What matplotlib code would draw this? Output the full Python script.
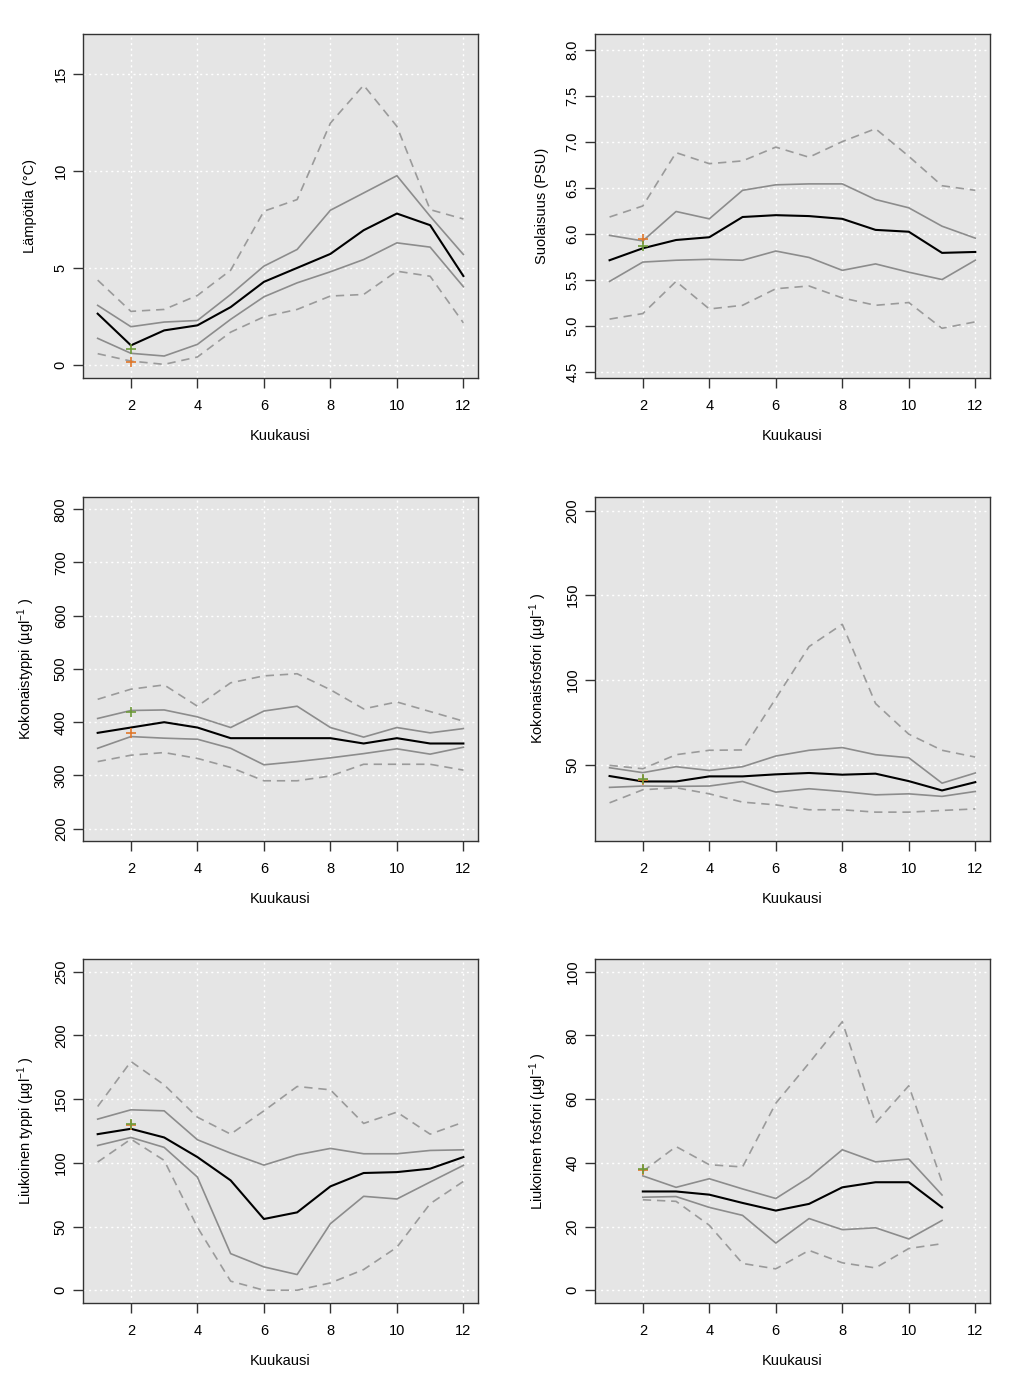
import matplotlib
matplotlib.use("Agg")
import matplotlib.pyplot as plt
import numpy as np

plt.rcParams['font.family'] = ['Liberation Sans', 'DejaVu Sans']
plt.rcParams['mathtext.fontset'] = 'custom'
plt.rcParams['mathtext.rm'] = 'Liberation Sans'
plt.rcParams['mathtext.it'] = 'Liberation Sans'

months = list(range(1, 13))
months_dp = list(range(2, 12))

# Lämpötila
temp_med = [2.66, 1.03, 1.80, 2.06, 3.00, 4.30, 5.02, 5.74, 6.96, 7.82, 7.22, 4.60]
temp_q75 = [3.09, 1.99, 2.23, 2.31, 3.65, 5.11, 5.97, 7.99, 8.88, 9.77, 7.68, 5.71]
temp_q25 = [1.39, 0.62, 0.48, 1.08, 2.37, 3.53, 4.25, 4.82, 5.45, 6.31, 6.09, 4.05]
temp_p90 = [4.39, 2.78, 2.88, 3.60, 4.90, 7.94, 8.54, 12.48, 14.43, 12.31, 8.02, 7.54]
temp_p10 = [0.60, 0.22, 0.05, 0.43, 1.71, 2.50, 2.88, 3.57, 3.65, 4.85, 4.59, 2.19]
temp_obs = [0.19, 0.82]   # orange, green

# Suolaisuus
sal_med = [5.71, 5.84, 5.93, 5.96, 6.18, 6.20, 6.19, 6.16, 6.04, 6.02, 5.79, 5.80]
sal_q75 = [5.98, 5.92, 6.24, 6.16, 6.47, 6.53, 6.54, 6.54, 6.37, 6.28, 6.08, 5.95]
sal_q25 = [5.48, 5.69, 5.71, 5.72, 5.71, 5.81, 5.74, 5.60, 5.67, 5.58, 5.50, 5.71]
sal_p90 = [6.18, 6.30, 6.88, 6.76, 6.79, 6.94, 6.83, 7.00, 7.14, 6.84, 6.52, 6.47]
sal_p10 = [5.07, 5.13, 5.48, 5.18, 5.22, 5.40, 5.43, 5.30, 5.22, 5.25, 4.97, 5.04]
sal_obs = [5.94, 5.87]

# Kokonaistyppi
totn_med = [380, 390, 400, 390, 370, 370, 370, 370, 360, 370, 360, 360]
totn_q75 = [407, 422, 423, 410, 390, 421, 430, 390, 372, 390, 380, 388]
totn_q25 = [351, 373, 370, 368, 351, 320, 326, 333, 341, 350, 340, 353]
totn_p90 = [443, 462, 470, 430, 474, 487, 491, 461, 425, 438, 420, 402]
totn_p10 = [326, 338, 343, 332, 315, 290, 290, 299, 321, 321, 321, 310]
totn_obs = [379, 420]

# Kokonaisfosfori
totp_med = [43.3, 40.1, 40.1, 43.1, 43.1, 44.3, 45.1, 44.1, 44.7, 40.3, 34.8, 39.7]
totp_q75 = [48.2, 45.3, 48.8, 46.6, 48.8, 55.1, 58.5, 60.1, 55.9, 54.1, 39.1, 45.1]
totp_q25 = [36.6, 37.4, 37.2, 37.4, 40.1, 33.8, 35.8, 34.2, 32.2, 32.8, 31.3, 34.2]
totp_p90 = [49.6, 47.6, 55.9, 58.5, 58.7, 89.1, 119.7, 132.9, 86.1, 68.0, 58.5, 54.5]
totp_p10 = [27.5, 35.2, 36.4, 32.8, 27.9, 26.3, 23.4, 23.4, 22.0, 22.0, 23.0, 23.9]
totp_obs = [41.0, 41.3]

# Liukoinen typpi
din_med = [122.5, 126.7, 119.9, 104.5, 86.2, 55.9, 61.1, 81.5, 92.0, 92.7, 95.4, 104.5]
din_q75 = [134.3, 141.6, 140.8, 118.1, 107.6, 98.2, 106.3, 111.3, 107.1, 107.1, 109.7, 110.2]
din_q25 = [113.6, 119.9, 112.1, 88.8, 28.7, 18.3, 12.3, 52.2, 73.7, 71.6, 84.9, 98.0]
din_p90 = [144.2, 179.5, 161.2, 135.8, 122.5, 140.8, 159.9, 157.3, 130.9, 139.8, 122.5, 131.9]
din_p10 = [100.6, 118.6, 101.9, 49.4, 7.1, 0.0, 0.0, 5.7, 16.2, 33.7, 67.9, 85.4]
din_obs = [129.5, 130.2]

# Liukoinen fosfori (kuukaudet 2-11)
dip_med = [31.0, 31.0, 30.0, 27.4, 25.0, 27.1, 32.3, 33.9, 33.9, 26.0]
dip_q75 = [35.9, 32.3, 35.0, 31.8, 28.8, 35.4, 44.1, 40.3, 41.2, 29.9]
dip_q25 = [29.2, 29.4, 26.0, 23.5, 14.8, 22.5, 19.0, 19.6, 16.1, 21.9]
dip_p90 = [37.3, 45.1, 39.4, 38.7, 58.7, 71.3, 84.3, 52.5, 64.2, 34.0]
dip_p10 = [28.4, 27.9, 20.4, 8.4, 6.7, 12.5, 8.6, 7.0, 13.1, 14.6]
dip_obs = [37.6, 38.0]

panels = [
    ("Lämpötila (°C)", months, temp_med, temp_q75, temp_q25, temp_p90, temp_p10, temp_obs,
     (-0.65, 17.07), [0, 5, 10, 15], None),
    ("Suolaisuus (PSU)", months, sal_med, sal_q75, sal_q25, sal_p90, sal_p10, sal_obs,
     (4.43, 8.17), [4.5, 5.0, 5.5, 6.0, 6.5, 7.0, 7.5, 8.0], "{:.1f}"),
    ("Kokonaistyppi (µgl$^{-1}$ )", months, totn_med, totn_q75, totn_q25, totn_p90, totn_p10, totn_obs,
     (177, 823), [200, 300, 400, 500, 600, 700, 800], None),
    ("Kokonaisfosfori (µgl$^{-1}$ )", months, totp_med, totp_q75, totp_q25, totp_p90, totp_p10, totp_obs,
     (5, 208), [50, 100, 150, 200], None),
    ("Liukoinen typpi (µgl$^{-1}$ )", months, din_med, din_q75, din_q25, din_p90, din_p10, din_obs,
     (-10, 260), [0, 50, 100, 150, 200, 250], None),
    ("Liukoinen fosfori (µgl$^{-1}$ )", months_dp, dip_med, dip_q75, dip_q25, dip_p90, dip_p10, dip_obs,
     (-4, 104), [0, 20, 40, 60, 80, 100], None),
]

fig = plt.figure(figsize=(10.24, 13.87), dpi=100)
lefts = [0.0811, 0.581]
bottoms = [0.7275, 0.3937, 0.0606]
w, h = 0.3857, 0.248

for i, (ylabel, x, med, q75, q25, p90, p10, obs, ylim, yticks, fmt) in enumerate(panels):
    ax = fig.add_axes([lefts[i % 2], bottoms[i // 2], w, h])
    ax.set_facecolor("#e5e5e5")
    ax.set_xlim(0.56, 12.44)
    ax.set_ylim(*ylim)
    ax.set_xticks([2, 4, 6, 8, 10, 12])
    ax.set_yticks(yticks)
    if fmt:
        ax.set_yticklabels([fmt.format(v) for v in yticks])
    ax.grid(True, color="white", linestyle=(0, (1.5, 2.5)), linewidth=1.0)
    ax.set_axisbelow(True)

    ax.plot(x, p90, color="#9a9a9a", linestyle=(0, (5, 3.5)), linewidth=1.2)
    ax.plot(x, p10, color="#9a9a9a", linestyle=(0, (5, 3.5)), linewidth=1.2)
    ax.plot(x, q75, color="#8c8c8c", linewidth=1.2)
    ax.plot(x, q25, color="#8c8c8c", linewidth=1.2)
    ax.plot(x, med, color="black", linewidth=1.5)
    ax.plot([2], [obs[0]], marker="+", color="#e0782c", markersize=7, mew=1.2, linestyle="none")
    ax.plot([2], [obs[1]], marker="+", color="#6e9a3a", markersize=7, mew=1.2, linestyle="none")

    for s in ax.spines.values():
        s.set_color("#333333")
        s.set_linewidth(1.0)
    ax.tick_params(axis="both", colors="#333333", labelcolor="black", labelsize=10.5,
                   length=7, width=1.0, pad=8)
    ax.tick_params(axis="y", pad=4)
    for lab in ax.get_yticklabels():
        lab.set_rotation(90)
        lab.set_va("center")
    ax.set_xlabel("Kuukausi", fontsize=10.5, labelpad=12)
    ax.set_ylabel(ylabel, fontsize=10.5, labelpad=12)

fig.savefig("out.png", dpi=100)
